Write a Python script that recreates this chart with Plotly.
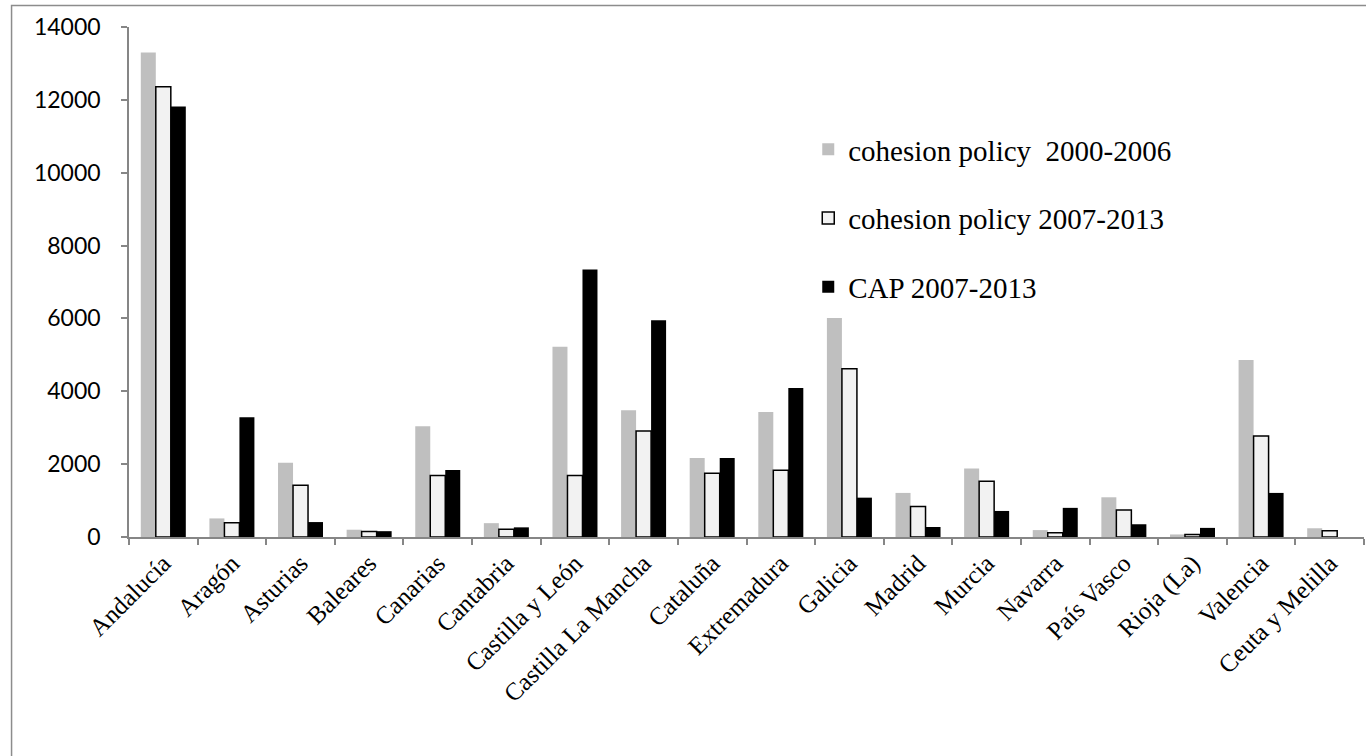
import plotly.graph_objects as go

regions = ["Andalucía", "Aragón", "Asturias", "Baleares", "Canarias", "Cantabria",
           "Castilla y León", "Castilla La Mancha", "Cataluña", "Extremadura", "Galicia",
           "Madrid", "Murcia", "Navarra", "País Vasco", "Rioja (La)", "Valencia",
           "Ceuta y Melilla"]

cohesion_2000_2006 = [13300, 510, 2040, 200, 3040, 380, 5220, 3480, 2170, 3430, 6010,
                      1210, 1880, 190, 1090, 70, 4860, 240]
cohesion_2007_2013 = [12360, 390, 1420, 150, 1690, 210, 1690, 2910, 1750, 1830, 4620,
                      840, 1530, 120, 740, 70, 2770, 175]
cap_2007_2013 = [11820, 3290, 410, 160, 1840, 265, 7340, 5950, 2170, 4090, 1080,
                 275, 715, 800, 350, 250, 1210, 0]

series_names = ["cohesion policy  2000-2006", "cohesion policy 2007-2013", "CAP 2007-2013"]
y_ticks = [0, 2000, 4000, 6000, 8000, 10000, 12000, 14000]

fig = go.Figure()
fig.add_trace(go.Bar(x=regions, y=cohesion_2000_2006, name=series_names[0],
                     marker=dict(color="#BFBFBF", line=dict(width=0)), legendgroup="a"))
fig.add_trace(go.Bar(x=regions, y=cohesion_2007_2013, name=series_names[1],
                     marker=dict(color="#F2F2F2", line=dict(color="#000000", width=1.5)),
                     legendgroup="b"))
fig.add_trace(go.Bar(x=regions, y=cap_2007_2013, name=series_names[2],
                     marker=dict(color="#000000", line=dict(width=0)), legendgroup="c"))

fig.update_layout(
    width=1366, height=756,
    margin=dict(l=129, r=2, t=27, b=219),
    paper_bgcolor="white", plot_bgcolor="white",
    barmode="group", bargap=0.344, bargroupgap=0,
    showlegend=True,
    legend=dict(x=0.550, y=0.810, xanchor="left", yanchor="top",
                font=dict(family="Liberation Serif", size=29, color="#000000"),
                tracegroupgap=28, bgcolor="rgba(0,0,0,0)"),
    xaxis=dict(showline=True, linecolor="#868686", linewidth=1.5,
               ticks="outside", tickson="boundaries", ticklen=6, tickcolor="#868686",
               tickwidth=1.5, tickangle=-45,
               tickfont=dict(family="Liberation Serif", size=25, color="#000000"),
               showgrid=False, zeroline=False),
    yaxis=dict(range=[0, 14000], tickvals=y_ticks, ticktext=[str(v) for v in y_ticks],
               showline=True, linecolor="#868686", linewidth=1.5,
               ticks="outside", ticklen=6, tickcolor="#868686", tickwidth=1.5,
               ticklabelstandoff=16,
               tickfont=dict(family="Lato", size=23, color="#000000"),
               showgrid=False, zeroline=False),
    shapes=[dict(type="rect", xref="paper", yref="paper",
                 x0=-0.0951, x1=1.01, y0=-0.45, y1=1.0422,
                 line=dict(color="#8C8C8C", width=1.5), fillcolor="rgba(0,0,0,0)",
                 layer="below")],
)

fig.write_html("out.html")
